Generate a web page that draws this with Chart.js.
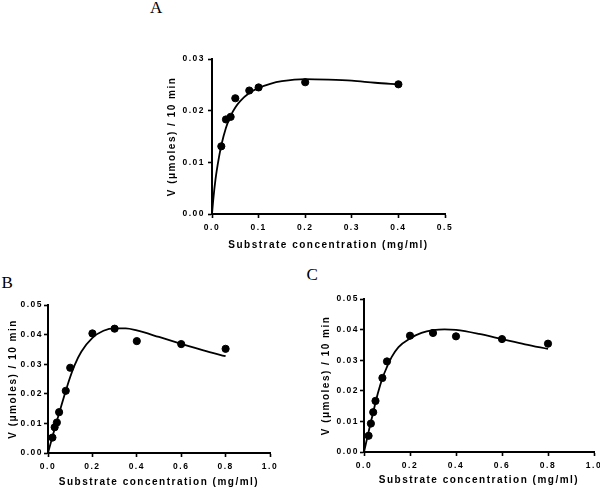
<!DOCTYPE html>
<html>
<head>
<meta charset="utf-8">
<script src="https://cdn.jsdelivr.net/npm/chart.js@4"></script>
<style>
  html, body { margin: 0; padding: 0; background: #fff; }
  #wrap { position: relative; width: 600px; height: 488px; overflow: hidden; }
  canvas { position: absolute; }
  .lbl { position: absolute; font-family: "Liberation Serif", "Times New Roman", serif; font-size: 17px; line-height: 17px; color: #000; }
</style>
</head>
<body>
<div id="wrap">
  <div class="lbl" style="left:150px; top:-1.5px;">A</div>
  <div class="lbl" style="left:1.5px; top:273.5px;">B</div>
  <div class="lbl" style="left:306.5px; top:265.7px;">C</div>
  <canvas id="cA" width="320" height="252" style="left:140px; top:0px;"></canvas>
  <canvas id="cB" width="300" height="228" style="left:0px; top:260px;"></canvas>
  <canvas id="cC" width="300" height="238" style="left:300px; top:250px;"></canvas>
</div>
<script>
// ----- Panel A -----
const aConc = [0.02, 0.03, 0.04, 0.05, 0.08, 0.1, 0.2, 0.4];
const aRate = [0.0131, 0.0183, 0.0188, 0.0224, 0.0239, 0.0245, 0.0255, 0.0251];
const aFitConc = [0, 0.0025, 0.005, 0.0075, 0.01, 0.015, 0.02, 0.03, 0.04, 0.05, 0.06, 0.08, 0.1, 0.125, 0.15, 0.2, 0.25, 0.3, 0.35, 0.4];
const aFitRate = [0, 0.0026, 0.0048, 0.0067, 0.0083, 0.0110, 0.0133, 0.0167, 0.0190, 0.0206, 0.0218, 0.0234, 0.0244, 0.0252, 0.0257, 0.0261, 0.0260, 0.0258, 0.0254, 0.0251];

// ----- Panel B -----
const bConc = [0.02, 0.03, 0.04, 0.05, 0.08, 0.1, 0.2, 0.3, 0.4, 0.6, 0.8];
const bRate = [0.0052, 0.0087, 0.0103, 0.0138, 0.0210, 0.0288, 0.0404, 0.0420, 0.0378, 0.0368, 0.0352];
const bFitConc = [0, 0.02, 0.04, 0.06, 0.08, 0.1, 0.12, 0.15, 0.2, 0.25, 0.3, 0.35, 0.4, 0.5, 0.6, 0.7, 0.8];
const bFitRate = [0, 0.0055, 0.0108, 0.0160, 0.0210, 0.0257, 0.0297, 0.0342, 0.0389, 0.0413, 0.0421, 0.0421, 0.0414, 0.0392, 0.0369, 0.0347, 0.0327];

// ----- Panel C -----
const cConc = [0.02, 0.03, 0.04, 0.05, 0.08, 0.1, 0.2, 0.3, 0.4, 0.6, 0.8];
const cRate = [0.0053, 0.0093, 0.0130, 0.0167, 0.0242, 0.0296, 0.0380, 0.0389, 0.0378, 0.0369, 0.0354];
const cFitConc = [0, 0.02, 0.04, 0.06, 0.08, 0.1, 0.12, 0.15, 0.2, 0.25, 0.3, 0.35, 0.4, 0.5, 0.6, 0.7, 0.8];
const cFitRate = [0, 0.0066, 0.0130, 0.0191, 0.0241, 0.0278, 0.0310, 0.0343, 0.0371, 0.0389, 0.0398, 0.0401, 0.0399, 0.0386, 0.0369, 0.0352, 0.0337];

// ----- Axis text -----
const xTitle = "Substrate concentration (mg/ml)";
const yTitle = "V (\u03bcmoles) / 10 min";

const FONT = '"Liberation Sans", Arial, sans-serif';

const spacingPlugin = {
  id: 'spacing',
  beforeDraw(chart) { chart.ctx.letterSpacing = '1.5px'; }
};

function pairs(xs, ys) { return xs.map((x, i) => ({ x: x, y: ys[i] })); }

function makeChart(id, conc, rate, fitConc, fitRate, L) {
  new Chart(document.getElementById(id), {
    type: 'scatter',
    data: {
      datasets: [
        {
          type: 'line',
          data: pairs(fitConc, fitRate),
          borderColor: '#000',
          borderWidth: 1.8,
          pointRadius: 0,
          fill: false,
          cubicInterpolationMode: 'monotone'
        },
        {
          data: pairs(conc, rate),
          backgroundColor: '#000',
          borderColor: '#000',
          pointRadius: 3.6,
          pointHoverRadius: 3.6
        }
      ]
    },
    options: {
      responsive: false,
      animation: false,
      events: [],
      layout: { padding: { left: 0, top: L.top, right: L.right, bottom: 0 } },
      plugins: { legend: { display: false }, tooltip: { enabled: false } },
      scales: {
        x: {
          type: 'linear',
          min: 0, max: L.xMax,
          grid: { display: true, drawOnChartArea: false, drawTicks: true, tickLength: 4, tickWidth: 1.6, tickColor: '#000' },
          border: { display: true, color: '#000', width: 2 },
          ticks: {
            stepSize: L.xStep, color: '#000', padding: 5, maxRotation: 0,
            font: { family: FONT, size: 8.5, weight: 'bold' },
            callback: v => Number(v).toFixed(1)
          },
          title: {
            display: true, text: xTitle, color: '#000',
            font: { family: FONT, size: 10, weight: 'bold' },
            padding: { top: 0, bottom: L.xTitlePad }
          },
          afterFit(s) { s.height = L.xH; s.paddingLeft = 0; s.paddingRight = 0; }
        },
        y: {
          type: 'linear',
          min: 0, max: L.yMax,
          grid: { display: true, drawOnChartArea: false, drawTicks: true, tickLength: 4, tickWidth: 1.6, tickColor: '#000' },
          border: { display: true, color: '#000', width: 2 },
          ticks: {
            stepSize: 0.01, color: '#000', padding: L.yTickPad,
            font: { family: FONT, size: 8.5, weight: 'bold' },
            callback: v => Number(v).toFixed(2)
          },
          title: {
            display: true, text: yTitle, color: '#000',
            font: { family: FONT, size: 10, weight: 'bold' },
            padding: { top: L.yTitlePad, bottom: 0 }
          },
          afterFit(s) { s.width = L.yW; s.paddingTop = 0; s.paddingBottom = 0; }
        }
      }
    },
    plugins: [spacingPlugin]
  });
}

makeChart('cA', aConc, aRate, aFitConc, aFitRate,
  { top: 59, right: 15, xH: 38, yW: 72, xMax: 0.5, xStep: 0.1, yMax: 0.03, xTitlePad: 1, yTitlePad: 26, yTickPad: 3 });
makeChart('cB', bConc, bRate, bFitConc, bFitRate,
  { top: 45, right: 30, xH: 35, yW: 48, xMax: 1.0, xStep: 0.2, yMax: 0.05, xTitlePad: 0, yTitlePad: 7, yTickPad: 1 });
makeChart('cC', cConc, cRate, cFitConc, cFitRate,
  { top: 49, right: 6, xH: 36, yW: 64, xMax: 1.0, xStep: 0.2, yMax: 0.05, xTitlePad: 2, yTitlePad: 20, yTickPad: 1 });
</script>
</body>
</html>
